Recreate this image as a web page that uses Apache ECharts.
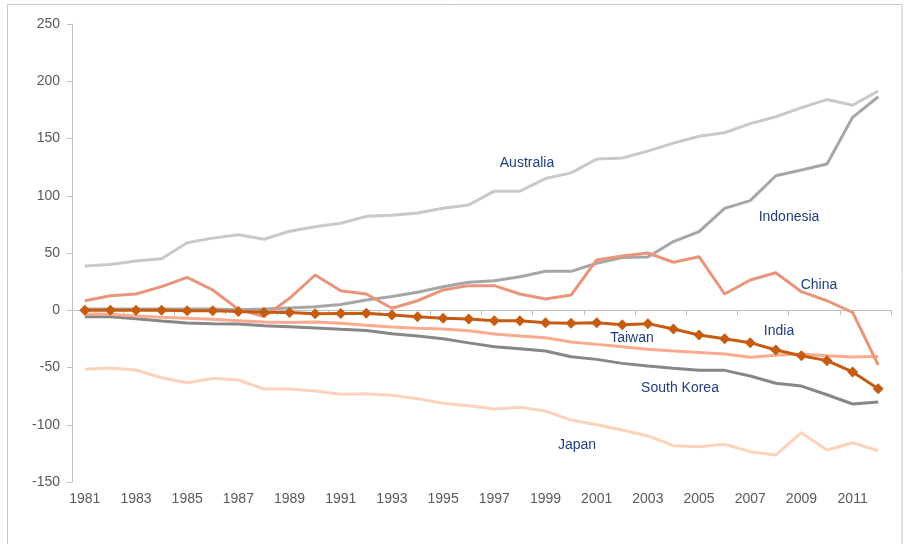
<!DOCTYPE html>
<html><head><meta charset="utf-8">
<script src="https://cdn.jsdelivr.net/npm/echarts@6/dist/echarts.min.js"></script>
<style>html,body{margin:0;padding:0;background:#fff}#c{width:904px;height:544px}</style>
</head><body><div id="c"></div>
<script>
const years = [];
for (let y = 1981; y <= 2012; y++) years.push(String(y));
const yTicks = [-150, -100, -50, 0, 50, 100, 150, 200, 250];

const australia = [38.6,40,43,45,59,63,66,62,69,73,76,82,83,85,89,92,104,104,115,120,132,133,139,146,152,155,163,169,177,184,179,191.5];
const indonesia = [1,1,1,1,1,1,0.5,1,2,3,5,9,12,15.7,20.6,24.4,25.8,29.3,34,34,41,46,46.5,60,68.6,89,95.7,117.5,122.5,127.7,168.5,186.5];
const china = [8.3,12.7,14.2,20.6,28.7,17.7,0.8,-5.6,10.4,30.8,17,14.2,1.7,8.3,17.7,21.5,21.5,14.2,9.8,13.3,43.9,47.4,50,41.9,46.8,14.2,26.4,32.8,16.2,8.3,-1.8,-47.8];
const india = [0,0,0,0,-0.5,-0.5,-1,-1.8,-2,-3,-2.8,-2.7,-4.1,-5.6,-7,-7.6,-9.1,-9.1,-10.9,-11.4,-10.9,-12.6,-11.7,-16.4,-21.6,-24.8,-28.3,-34.7,-39.7,-44,-53.9,-68.5];
const taiwan = [-3.3,-3.5,-5,-6.2,-7,-7.9,-9.1,-10.3,-10.6,-10.3,-11.4,-13.2,-14.6,-15.8,-16.4,-18,-20.7,-22.5,-24,-27.7,-29.8,-31.8,-34.1,-35.6,-36.8,-38.2,-41.1,-39.4,-38.2,-39.7,-40.8,-40.5];
const southKorea = [-5.6,-5.6,-7.4,-9.4,-11.1,-11.7,-12,-13.5,-14.4,-15.5,-16.7,-17.6,-20.5,-22.5,-24.8,-28.5,-31.8,-33.6,-35.6,-40.6,-42.9,-46.4,-48.7,-50.7,-52.5,-52.5,-57.4,-63.8,-66.2,-73.8,-81.9,-80.1];
const japan = [-51.6,-50.4,-52.2,-58.9,-63.3,-59.5,-60.9,-68.8,-68.8,-70.5,-73.4,-72.9,-74.3,-77.2,-81.3,-83.4,-86.2,-84.8,-88,-95.9,-100,-104.6,-109.8,-118.3,-119.2,-117.1,-123.5,-126.4,-106.9,-122,-115.7,-122.7];

const seriesNames = ['Australia','Indonesia','China','India','Taiwan','South Korea','Japan'];

const FONT = "'Liberation Sans', Arial, sans-serif";
const chart = echarts.init(document.getElementById('c'));
function line(name, data, color, extra) {
  return Object.assign({
    name, type: 'line', data, xAxisIndex: 0, yAxisIndex: 0,
    symbol: 'none', lineStyle: { color, width: 3 }, itemStyle: { color },
    animation: false, silent: true
  }, extra || {});
}
function label(text, x, y) {
  return { type: 'text', x: x, y: y, style: { text, fill: '#1f3e7c', font: '14px ' + FONT, textAlign: 'center', textVerticalAlign: 'middle' }, z: 100 };
}
chart.setOption({
  animation: false,
  grid: { left: 72, right: 13, top: 24, bottom: 62 },
  xAxis: [
    { type: 'category', data: years, boundaryGap: true,
      axisLine: { onZero: true, lineStyle: { color: '#bfbfbf', width: 1 } },
      axisTick: { show: true, length: 5, lineStyle: { color: '#bfbfbf' } },
      axisLabel: { show: false }, splitLine: { show: false } },
    { type: 'category', data: years, boundaryGap: true, position: 'bottom',
      axisLine: { show: false, onZero: false }, axisTick: { show: false },
      axisLabel: { interval: 1, color: '#595959', fontSize: 14, fontFamily: FONT, margin: 10 },
      splitLine: { show: false } }
  ],
  yAxis: { type: 'value', min: yTicks[0], max: yTicks[yTicks.length - 1], interval: 50,
    axisLine: { show: true, lineStyle: { color: '#bfbfbf' } },
    axisTick: { show: true, length: 5, lineStyle: { color: '#bfbfbf' } },
    axisLabel: { color: '#595959', fontSize: 14, fontFamily: FONT, margin: 12 },
    splitLine: { show: false } },
  series: [
    line(seriesNames[0], australia, '#c9c9c9'),
    line(seriesNames[1], indonesia, '#a6a6a6'),
    line(seriesNames[5], southKorea, '#878787'),
    line(seriesNames[6], japan, '#fdd2bb'),
    line(seriesNames[4], taiwan, '#fbab8d'),
    line(seriesNames[2], china, '#e8957b'),
    line(seriesNames[3], india, '#c65b12', { symbol: 'diamond', symbolSize: 11, z: 5 })
  ],
  graphic: [
    { type: 'rect', shape: { x: 7.5, y: 4.5, width: 894.5, height: 600 }, style: { fill: 'none', stroke: '#c8c8c8', lineWidth: 1 }, silent: true },
    label(seriesNames[0], 527, 163),
    label(seriesNames[1], 789, 217),
    label(seriesNames[2], 819, 285),
    label(seriesNames[3], 779, 331),
    label(seriesNames[4], 632, 338),
    label(seriesNames[5], 680, 388),
    label(seriesNames[6], 577, 445)
  ]
});
</script></body></html>
